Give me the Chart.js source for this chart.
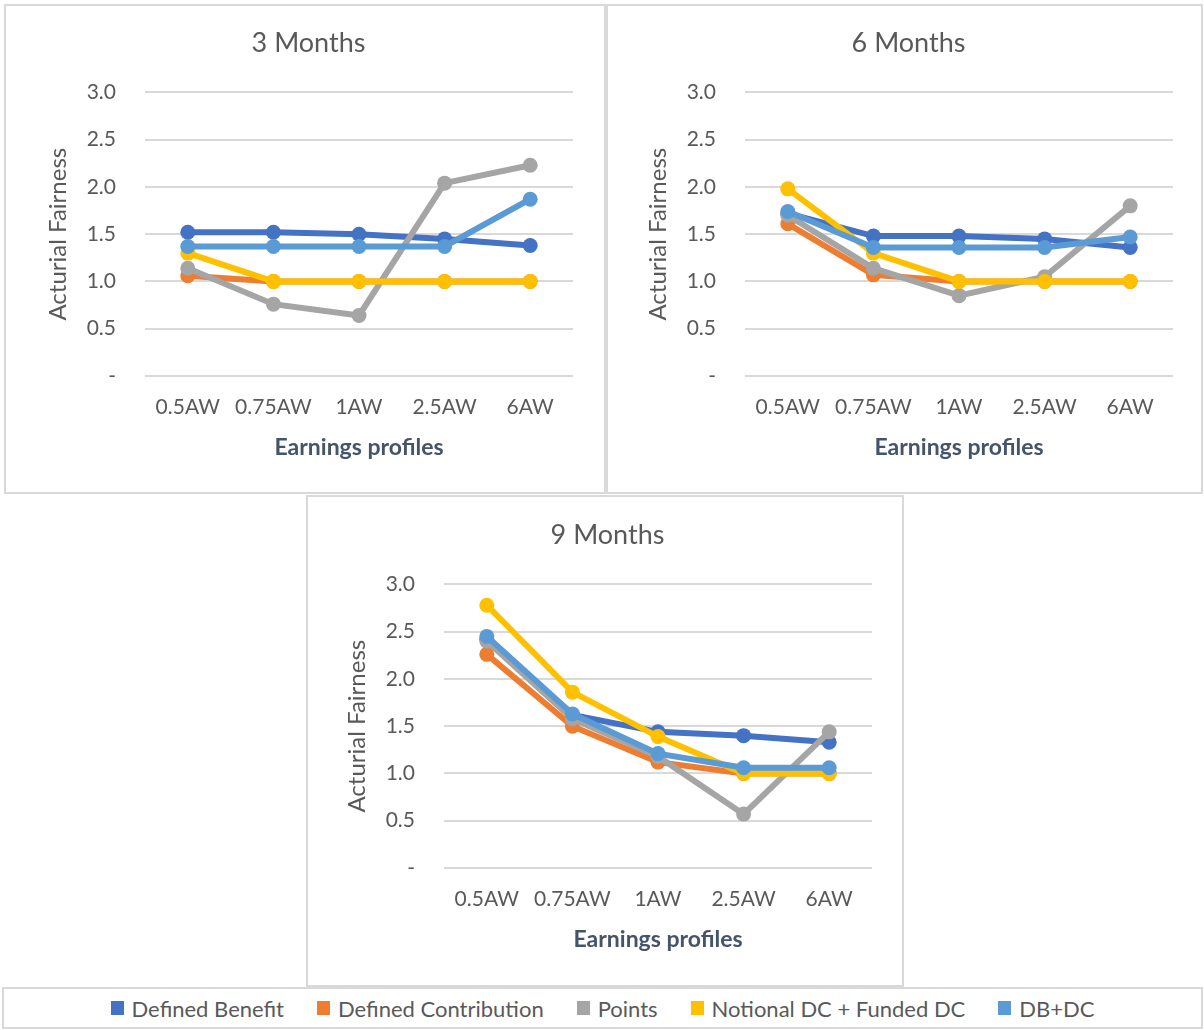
<!DOCTYPE html>
<html>
<head>
<meta charset="utf-8">
<script src="https://cdn.jsdelivr.net/npm/chart.js@4.4.1/dist/chart.umd.min.js"></script>
<style>
  body { margin: 0; background: #ffffff; width: 1204px; height: 1030px; position: relative; overflow: hidden; font-family: Lato, "Open Sans", sans-serif; }
  .frame { position: absolute; box-sizing: border-box; border: 2px solid #d9d9d9; background: #ffffff; }
  canvas { position: absolute; }
  #legend { display: flex; justify-content: center; align-items: center; gap: 33px; }
  .item { display: flex; align-items: center; color: #595959; font-size: 22px; }
  .swatch { width: 13px; height: 14px; margin-right: 8px; }
</style>
</head>
<body>
<div class="frame" style="left:4px; top:4px; width:602px; height:490px;"></div>
<div class="frame" style="left:606px; top:4px; width:597px; height:490px;"></div>
<div class="frame" style="left:306px; top:495px; width:598px; height:492px;"></div>
<div class="frame" id="legend" style="left:2px; top:987px; width:1201px; height:42px;"></div>

<canvas id="chart3" width="598" height="488" style="left:6px; top:5px;"></canvas>
<canvas id="chart6" width="598" height="488" style="left:606px; top:5px;"></canvas>
<canvas id="chart9" width="598" height="488" style="left:305px; top:497px;"></canvas>

<script>
const categories = ["0.5AW", "0.75AW", "1AW", "2.5AW", "6AW"];
const seriesNames = ["Defined Benefit", "Defined Contribution", "Points", "Notional DC + Funded DC", "DB+DC"];
const seriesColors = ["#4472C4", "#ED7D31", "#A5A5A5", "#FFC000", "#5B9BD5"];
const yTicks = [0, 0.5, 1.0, 1.5, 2.0, 2.5, 3.0];

// 3 months
const db3 = [1.52, 1.52, 1.50, 1.45, 1.38];
const dc3 = [1.06, 1.00, 1.00, 1.00, 1.00];
const pts3 = [1.14, 0.76, 0.64, 2.04, 2.23];
const ndc3 = [1.30, 1.00, 1.00, 1.00, 1.00];
const dbdc3 = [1.37, 1.37, 1.37, 1.37, 1.87];

// 6 months
const db6 = [1.72, 1.48, 1.48, 1.45, 1.36];
const dc6 = [1.61, 1.07, 1.00, 1.00, 1.00];
const pts6 = [1.70, 1.14, 0.85, 1.05, 1.80];
const ndc6 = [1.98, 1.30, 1.00, 1.00, 1.00];
const dbdc6 = [1.74, 1.36, 1.36, 1.36, 1.47];

// 9 months
const db9 = [2.42, 1.62, 1.44, 1.40, 1.33];
const dc9 = [2.26, 1.50, 1.12, 1.00, 1.00];
const pts9 = [2.40, 1.58, 1.18, 0.57, 1.44];
const ndc9 = [2.78, 1.86, 1.39, 1.00, 1.00];
const dbdc9 = [2.45, 1.63, 1.21, 1.06, 1.06];

const panels = [
  { id: "chart3", title: "3 Months", series: [db3, dc3, pts3, ndc3, dbdc3] },
  { id: "chart6", title: "6 Months", series: [db6, dc6, pts6, ndc6, dbdc6] },
  { id: "chart9", title: "9 Months", series: [db9, dc9, pts9, ndc9, dbdc9] },
];

const fontFamily = "Lato, 'Open Sans', sans-serif";

const makeChart = (panel) => {
  const ctx = document.getElementById(panel.id).getContext("2d");
  const datasets = panel.series.map((values, i) => ({
    label: seriesNames[i],
    data: values,
    borderColor: seriesColors[i],
    backgroundColor: seriesColors[i],
    pointBackgroundColor: seriesColors[i],
    pointBorderColor: seriesColors[i],
    borderWidth: 6,
    pointRadius: 7.5,
    pointBorderWidth: 0,
    tension: 0,
    // later series sit on top, like the original
    order: seriesNames.length - i,
  }));

  return new Chart(ctx, {
    type: "line",
    data: { labels: categories, datasets: datasets },
    options: {
      responsive: false,
      animation: false,
      layout: { padding: { top: 22, left: 38, right: 31, bottom: 32 } },
      plugins: {
        legend: { display: false },
        tooltip: { enabled: false },
        title: {
          display: true,
          text: panel.title,
          color: "#595959",
          font: { family: fontFamily, size: 27, weight: "normal", lineHeight: 1.2 },
          padding: { top: 0, bottom: 33 },
        },
      },
      scales: {
        x: {
          offset: true,
          afterFit: (scale) => { scale.height = 85; },
          grid: { display: false, drawTicks: false },
          border: { display: false },
          ticks: { color: "#595959", padding: 19, font: { family: fontFamily, size: 21, lineHeight: 1.2 } },
          title: {
            display: true,
            text: "Earnings profiles",
            color: "#44546A",
            font: { family: fontFamily, size: 23, weight: "bold", lineHeight: 1.2 },
            padding: { top: 0, bottom: 0 },
          },
        },
        y: {
          min: 0,
          max: 3,
          afterBuildTicks: (scale) => { scale.ticks = yTicks.map(v => ({ value: v })); },
          afterFit: (scale) => { scale.width = 101; },
          grid: { color: "#d9d9d9", lineWidth: 2, drawTicks: false },
          border: { display: false },
          ticks: {
            color: "#595959",
            padding: 29,
            font: { family: fontFamily, size: 21, lineHeight: 1.2 },
            callback: (value) => value === 0 ? "-" : Number(value).toFixed(1),
          },
          title: {
            display: true,
            text: "Acturial Fairness",
            color: "#595959",
            font: { family: fontFamily, size: 24, weight: "normal", lineHeight: 1.2 },
            padding: { top: 0, bottom: 0 },
          },
        },
      },
    },
  });
};

panels.forEach(makeChart);

// legend under the three charts
const legend = document.getElementById("legend");
seriesNames.forEach((name, i) => {
  const item = document.createElement("div");
  item.className = "item";
  item.innerHTML = `<span class="swatch" style="background:${seriesColors[i]}"></span><span>${name}</span>`;
  legend.appendChild(item);
});
</script>
</body>
</html>
